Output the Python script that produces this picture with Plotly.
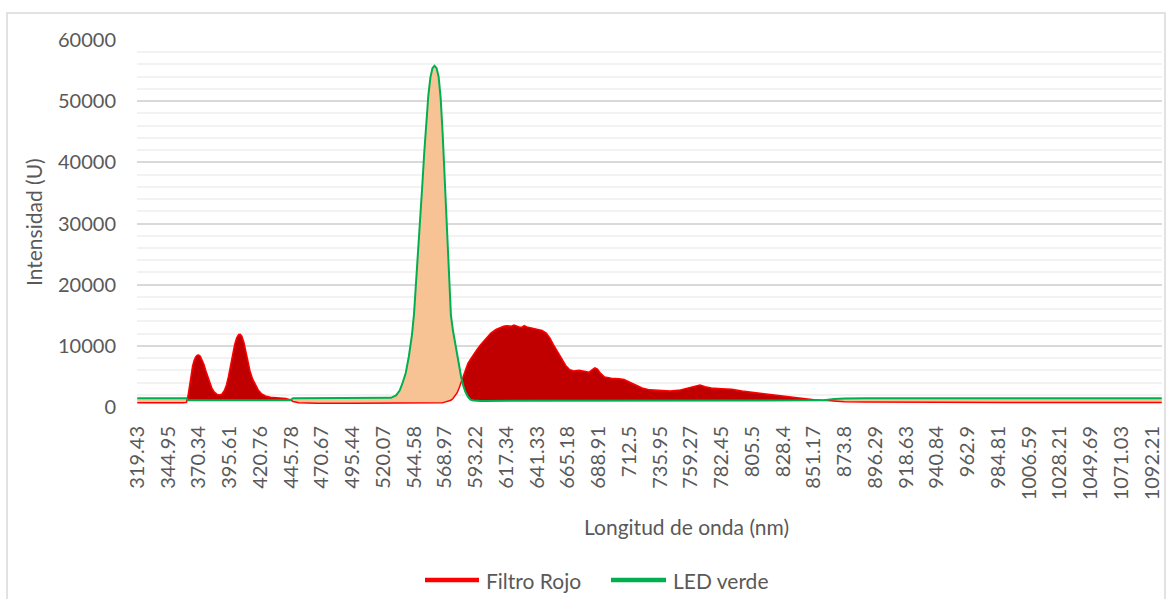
import numpy as np
import plotly.graph_objects as go

# ---------------- data ----------------
wavelength_labels = ["319.43", "344.95", "370.34", "395.61", "420.76", "445.78", "470.67",
                     "495.44", "520.07", "544.58", "568.97", "593.22", "617.34", "641.33",
                     "665.18", "688.91", "712.5", "735.95", "759.27", "782.45", "805.5",
                     "828.4", "851.17", "873.8", "896.29", "918.63", "940.84", "962.9",
                     "984.81", "1006.59", "1028.21", "1049.69", "1071.03", "1092.21"]
label_every = 60      # one wavelength label every 60 detector channels
n_channels = 2000

# detector channel (spreadsheet row) of each reading
channels = [
    0, 30, 60, 90, 96, 99, 102, 105, 108, 111,
    114, 117, 120, 123, 126, 130, 134, 138, 142, 146,
    150, 155, 160, 165, 170, 174, 178, 182, 186, 190,
    194, 198, 201, 204, 208, 212, 216, 220, 225, 230,
    236, 242, 250, 260, 275, 290, 298, 304, 315, 350,
    420, 480, 495, 505, 512, 518, 524, 530, 536, 540,
    544, 548, 552, 556, 560, 564, 568, 572, 576, 580,
    584, 588, 592, 596, 600, 604, 608, 612, 616, 620,
    624, 628, 632, 636, 640, 645, 650, 656, 662, 670,
    680, 690, 700, 705, 710, 715, 720, 725, 730, 735,
    740, 745, 750, 755, 760, 765, 770, 780, 790, 798,
    805, 812, 820, 828, 836, 844, 852, 862, 872, 882,
    888, 893, 898, 904, 912, 925, 940, 950, 960, 972,
    985, 1000, 1020, 1040, 1060, 1075, 1090, 1098, 1108, 1120,
    1140, 1160, 1180, 1200, 1220, 1240, 1260, 1280, 1300, 1320,
    1340, 1360, 1380, 1420, 1500, 1600, 1700, 1800, 1900, 1999,
]

filtro_rojo = [
    700, 650, 700, 700, 750, 1800, 3500, 5300, 6700, 7600,
    8200, 8450, 8500, 8300, 7800, 7000, 5900, 4800, 3800, 3000,
    2500, 2100, 1950, 2100, 2700, 3600, 5000, 6800, 8600, 10200,
    11300, 11850, 11900, 11600, 10600, 9000, 7300, 5900, 4600, 3700,
    2800, 2200, 1800, 1600, 1500, 1400, 1200, 900, 700, 600,
    600, 600, 650, 650, 650, 650, 650, 650, 650, 650,
    650, 650, 650, 650, 650, 650, 650, 650, 650, 650,
    650, 650, 650, 700, 800, 900, 1000, 1100, 1400, 1800,
    2300, 3100, 4100, 5200, 6200, 7100, 7800, 8600, 9300, 10200,
    11200, 12100, 12700, 12900, 13100, 13200, 13300, 13250, 13200, 13400,
    13200, 13100, 13000, 13300, 13100, 13000, 12900, 12800, 12500, 12100,
    11300, 10200, 9000, 7800, 6800, 6100, 5900, 6000, 5800, 5700,
    6100, 6400, 6200, 5500, 4900, 4700, 4600, 4500, 4100, 3600,
    3100, 2800, 2650, 2600, 2800, 3100, 3500, 3600, 3300, 3100,
    3000, 2900, 2600, 2400, 2200, 1900, 1700, 1550, 1350, 1200,
    1100, 950, 850, 800, 750, 750, 750, 750, 750, 750,
]

led_verde = [
    1450, 1450, 1450, 1450, 1450, 1100, 1100, 1100, 1100, 1100,
    1100, 1100, 1100, 1100, 1100, 1100, 1100, 1100, 1100, 1100,
    1100, 1100, 1100, 1100, 1100, 1100, 1100, 1100, 1100, 1100,
    1100, 1100, 1100, 1100, 1100, 1100, 1100, 1100, 1100, 1100,
    1100, 1100, 1100, 1100, 1100, 1100, 1100, 1450, 1450, 1450,
    1450, 1450, 1500, 1900, 2700, 4000, 5600, 8300, 11800, 15200,
    20000, 25200, 30000, 36000, 41600, 47000, 51000, 53900, 55400, 55800,
    55400, 54000, 50500, 44500, 37000, 28000, 20000, 15000, 12500, 10500,
    8500, 6600, 4900, 3500, 2500, 1700, 1200, 1050, 1000, 1000,
    1000, 1000, 1000, 1000, 1000, 1000, 1000, 1000, 1000, 1000,
    1000, 1000, 1000, 1000, 1000, 1000, 1000, 1000, 1000, 1000,
    1000, 1000, 1000, 1000, 1000, 1000, 1000, 1000, 1000, 1000,
    1000, 1000, 1000, 1000, 1000, 1000, 1000, 1000, 1000, 1000,
    1000, 1000, 1000, 1000, 1000, 1000, 1000, 1000, 1000, 1000,
    1000, 1000, 1000, 1000, 1000, 1000, 1000, 1000, 1000, 1000,
    1100, 1300, 1400, 1450, 1450, 1450, 1450, 1450, 1450, 1450,
]

series_names = ["Filtro Rojo", "LED verde"]

# ---------------- layout helpers ----------------
W, H = 1166, 599
ML, MR, MT, MB = 137, 4, 40, 192
PW, PH = W - ML - MR, H - MT - MB


def px_x(p):
    return (p - ML) / PW


def px_y(p):
    return (H - MB - p) / PH


RED_LINE = "#FF0000"
RED_FILL = "#C00000"
GREEN_LINE = "#00B050"
PEACH_FILL = "#F8C394"
TXT = "#595959"
FONT = "Lato"

lower = np.minimum(np.array(filtro_rojo), np.array(led_verde))

fig = go.Figure()

# peach fill between red and green where green is above
fig.add_trace(go.Scatter(x=channels, y=lower, mode="lines", line=dict(width=0),
                         showlegend=False, hoverinfo="skip"))
fig.add_trace(go.Scatter(x=channels, y=led_verde, mode="lines", line=dict(width=0),
                         fill="tonexty", fillcolor=PEACH_FILL, showlegend=False, hoverinfo="skip"))
# dark red fill between green and red where red is above
fig.add_trace(go.Scatter(x=channels, y=lower, mode="lines", line=dict(width=0),
                         showlegend=False, hoverinfo="skip"))
fig.add_trace(go.Scatter(x=channels, y=filtro_rojo, mode="lines", line=dict(width=0),
                         fill="tonexty", fillcolor=RED_FILL, showlegend=False, hoverinfo="skip"))
# lines
fig.add_trace(go.Scatter(x=channels, y=filtro_rojo, mode="lines", name=series_names[0],
                         line=dict(color=RED_LINE, width=1.5), showlegend=False))
fig.add_trace(go.Scatter(x=channels, y=led_verde, mode="lines", name=series_names[1],
                         line=dict(color=GREEN_LINE, width=2), showlegend=False))

tick_channels = [i * label_every for i in range(len(wavelength_labels))]

# manual legend (Excel style long line samples)
legend_items = [(series_names[0], RED_LINE, 425, 479, 484),
                (series_names[1], GREEN_LINE, 611, 666, 671)]
LEG_Y = 580
shapes = [
    dict(type="rect", xref="paper", yref="paper", x0=px_x(7), x1=px_x(1165),
         y0=px_y(640), y1=px_y(13), line=dict(color="#D9D9D9", width=1.5),
         fillcolor="rgba(0,0,0,0)", layer="below"),
]
annotations = [
    dict(text="Longitud de onda (nm)", x=px_x(686), y=px_y(526), xref="paper", yref="paper",
         showarrow=False, xanchor="center", yanchor="middle",
         font=dict(family=FONT, size=21, color=TXT)),
    dict(text="Intensidad (U)", x=px_x(33), y=px_y(222), xref="paper", yref="paper",
         showarrow=False, xanchor="center", yanchor="middle", textangle=-90,
         font=dict(family=FONT, size=21, color=TXT)),
]
for name, col, lx0, lx1, tx in legend_items:
    shapes.append(dict(type="line", xref="paper", yref="paper", x0=px_x(lx0), x1=px_x(lx1),
                       y0=px_y(LEG_Y), y1=px_y(LEG_Y), line=dict(color=col, width=4.5)))
    annotations.append(dict(text=name, x=px_x(tx), y=px_y(LEG_Y), xref="paper", yref="paper",
                            showarrow=False, xanchor="left", yanchor="middle",
                            font=dict(family=FONT, size=21, color=TXT)))

fig.update_layout(
    width=W, height=H,
    margin=dict(l=ML, r=MR, t=MT, b=MB),
    paper_bgcolor="white", plot_bgcolor="white",
    font=dict(family=FONT, size=20, color=TXT),
    showlegend=False,
    xaxis=dict(range=[-0.5, n_channels - 0.5], tickmode="array", tickvals=tick_channels,
               ticktext=wavelength_labels, tickangle=-90, showgrid=False, zeroline=False,
               showline=False, ticks="", ticklabelstandoff=14,
               tickfont=dict(family=FONT, size=20, color=TXT)),
    yaxis=dict(range=[0, 60000], dtick=10000, tickformat="d", showgrid=True,
               gridcolor="#D9D9D9", gridwidth=1.5, zeroline=False, showline=False,
               ticks="", ticklabelstandoff=20,
               minor=dict(dtick=2000, showgrid=True, gridcolor="#F2F2F2", gridwidth=1.5),
               tickfont=dict(family=FONT, size=20, color=TXT)),
    annotations=annotations,
    shapes=shapes,
)

fig.write_html("out.html")
